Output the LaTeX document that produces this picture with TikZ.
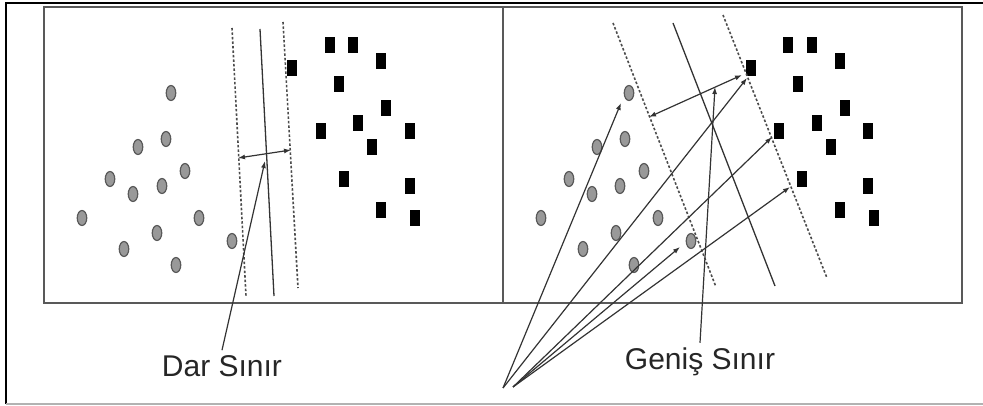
\documentclass[tikz,border=0pt]{standalone}
\usepackage{fontspec}
\setmainfont{Liberation Sans}
\usetikzlibrary{arrows.meta,shapes.geometric}
\begin{document}
\begin{tikzpicture}[x=1pt,y=-1pt,
  pt/.style={ellipse,draw=black!65,fill=black!40,line width=1.2pt,minimum width=9.5pt,minimum height=15pt,inner sep=0pt},
  sq/.style={rectangle,fill=black,minimum width=10.5pt,minimum height=16.5pt,inner sep=0pt},
  ln/.style={draw=black!80,line width=1.3pt},
  dl/.style={draw=black!70,line width=1.6pt,dash pattern=on 2.5pt off 2pt},
  arr/.style={draw=black!80,line width=1.2pt,-{Latex[length=7pt,width=5pt]}},
  darr/.style={draw=black!80,line width=1.2pt,{Latex[length=7pt,width=5pt]}-{Latex[length=7pt,width=5pt]}},
  lbl/.style={font=\fontsize{30pt}{34pt}\selectfont,text=black!85,inner sep=1pt}]
\useasboundingbox (0,0) rectangle (983,406);
% outer frame
\draw[black,line width=1.8pt] (6,404) -- (6,3) -- (983,3);
\draw[black!30,line width=1.2pt] (6,404) -- (983,404);
% panels
\draw[black!65,line width=1.4pt] (44,7) rectangle (962,303);
\draw[black!65,line width=1.4pt] (503,7) -- (503,303);

% ---------- left panel ----------
\foreach \n/\x/\y in {a1/171/93,a2/166/139,a3/138/147,a4/185/171,a5/110/179,a6/162/186,a7/133/194,a8/82/218,a9/199/218,a10/157/233,a11/124/249,a12/176/265,a13/232/241}
  \node[pt] (L\n) at (\x,\y) {};
\foreach \n/\x/\y in {b1/330/45,b2/353/45,b3/381/61,b4/292/68,b5/339/84,b6/386/108,b7/358/123,b8/321/131,b9/410/131,b10/372/147,b11/344/179,b12/410/186,b13/381/210,b14/415/218}
  \node[sq] (L\n) at (\x,\y) {};
\coordinate (ld1) at (232,28); \coordinate (ld2) at (246,296);
\coordinate (rd1) at (283,22); \coordinate (rd2) at (298,288);
\coordinate (s1) at (260,29); \coordinate (s2) at (274,296);
\draw[dl] (ld1) -- (ld2);
\draw[dl] (rd1) -- (rd2);
\draw[ln] (s1) -- (s2);
\coordinate (da) at (238,158); \coordinate (db) at (291,150);
\draw[darr] (da) -- (db);
\node[lbl] (dar) at (222,366) {Dar Sınır};
\coordinate (dartip) at (265,161);
\draw[arr] (dar.north) ++(0,-4) coordinate (darfoot) (darfoot) -- (dartip);

% ---------- right panel ----------
\foreach \n/\x/\y in {a1/629/93,a2/625/139,a3/597/147,a4/644/171,a5/569/179,a6/620/186,a7/592/194,a8/541/218,a9/658/218,a10/616/233,a11/583/249,a12/634/265,a13/691/241}
  \node[pt] (R\n) at (\x,\y) {};
\foreach \n/\x/\y in {b1/788/45,b2/812/45,b3/840/61,b4/751/68,b5/798/84,b6/845/108,b7/817/123,b8/779/131,b9/868/131,b10/831/147,b11/802/179,b12/868/186,b13/840/210,b14/874/218}
  \node[sq] (R\n) at (\x,\y) {};
\coordinate (rld1) at (613,23); \coordinate (rld2) at (716,287);
\coordinate (rrd1) at (723,15); \coordinate (rrd2) at (827,278);
\coordinate (rs1) at (673,23); \coordinate (rs2) at (775,286);
\draw[dl] (rld1) -- (rld2);
\draw[dl] (rrd1) -- (rrd2);
\draw[ln] (rs1) -- (rs2);
\coordinate (wa) at (649,117); \coordinate (wb) at (742,75);
\draw[darr] (wa) -- (wb);
\node[lbl] (gen) at (700,362) {Geniş Sınır};
\coordinate (gentip) at (715,87);
\draw[arr] (gen.north) ++(0,-4) coordinate (genfoot) (genfoot) -- (gentip);
% fan of support-vector arrows
\coordinate (o1) at (503,388); \coordinate (o2) at (513,387);
\draw[arr] (o1) -- (621,103);
\draw[arr] (o1) -- (747,78);
\draw[arr] (o2) -- (772,137);
\draw[arr] (o2) -- (680,247);
\draw[arr] (o2) -- (790,187);
\end{tikzpicture}
\end{document}
